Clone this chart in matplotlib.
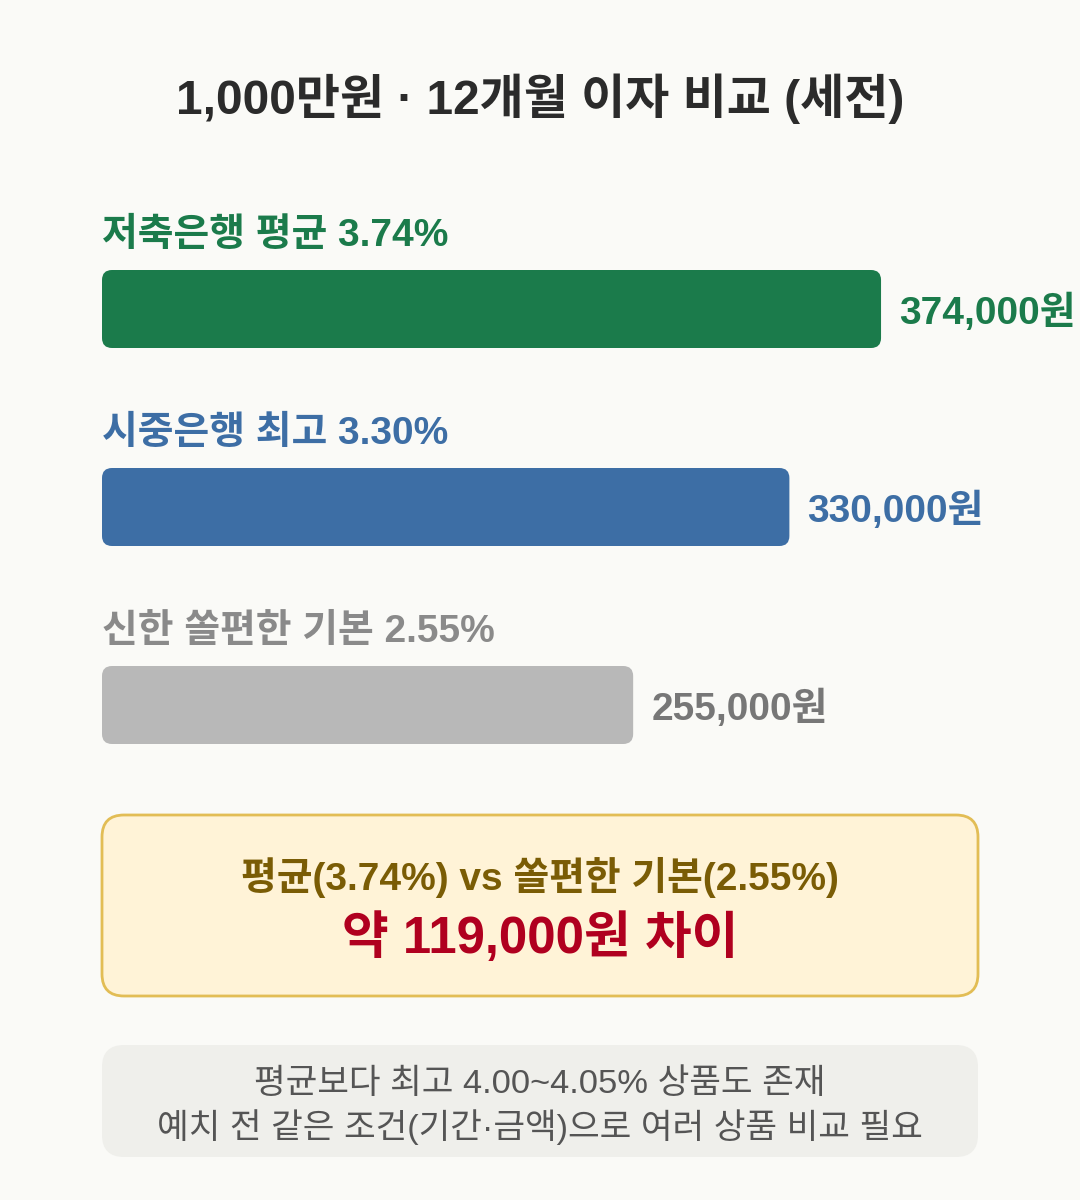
import matplotlib
matplotlib.use("Agg")
import matplotlib.pyplot as plt
from matplotlib.patches import FancyBboxPatch

plt.rcParams['font.family'] = ['Liberation Sans', 'Noto Sans CJK KR', 'DejaVu Sans']

# ---- data ----
title = "1,000만원 · 12개월 이자 비교 (세전)"
categories = ["저축은행 평균 3.74%", "시중은행 최고 3.30%", "신한 쏠편한 기본 2.55%"]
interest = [374000, 330000, 255000]
value_labels = ["374,000원", "330,000원", "255,000원"]
bar_colors = ["#1b7b4b", "#3d6ea5", "#b8b8b8"]
label_colors = ["#1b7b4b", "#3d6ea5", "#8a8a8a"]
value_colors = ["#1b7b4b", "#3d6ea5", "#777777"]
box_line1 = "평균(3.74%) vs 쏠편한 기본(2.55%)"
box_line2 = "약 119,000원 차이"
note_lines = ["평균보다 최고 4.00~4.05% 상품도 존재",
              "예치 전 같은 조건(기간·금액)으로 여러 상품 비교 필요"]

W, H = 1080, 1200
BG = "#fafaf7"
fig = plt.figure(figsize=(W / 100, H / 100), dpi=100, facecolor=BG)

# canvas axes in pixel coordinates for decoration
cv = fig.add_axes([0, 0, 1, 1], zorder=0)
cv.set_xlim(0, W)
cv.set_ylim(H, 0)
cv.axis("off")
cv.set_facecolor(BG)

cv.text(540, 99, title, ha="center", va="center", fontsize=34.5,
        fontweight="bold", color="#2b2b2b")

# bar axes: 0 won at x=102px, 2.083 px per 1000 won
left_px, right_px = 102, 1080
top_px, bot_px = 160, 760
px_per_won = 2.083 / 1000
xmax = (right_px - left_px) / px_per_won
step = 198
c0 = 309
ax = fig.add_axes([left_px / W, 1 - bot_px / H, (right_px - left_px) / W,
                   (bot_px - top_px) / H], zorder=1)
ax.set_xlim(0, xmax)
ax.set_ylim((bot_px - c0) / step, (top_px - c0) / step)
ax.axis("off")
ax.patch.set_alpha(0)

bar_h = 78 / step
r_px = 10
asp = px_per_won / step  # y data per x data for equal pixel radius
for i, (v, col) in enumerate(zip(interest, bar_colors)):
    p = FancyBboxPatch((0, i - bar_h / 2), v, bar_h,
                       boxstyle=f"round,pad=0,rounding_size={r_px / px_per_won}",
                       mutation_aspect=asp, facecolor=col, edgecolor="none")
    ax.add_patch(p)
    ax.text(0, i - 73 / step, categories[i], ha="left", va="center",
            fontsize=28, fontweight="bold", color=label_colors[i])
    ax.annotate(value_labels[i], (v, i), xytext=(13, -3), textcoords="offset points",
                ha="left", va="center", fontsize=28, fontweight="bold",
                color=value_colors[i])

# highlight box
b1 = FancyBboxPatch((102, 815), 876, 181, boxstyle="round,pad=0,rounding_size=22",
                    facecolor="#fff3d7", edgecolor="#e2bd55", linewidth=2)
cv.add_patch(b1)
cv.text(540, 877, box_line1, ha="center", va="center", fontsize=28,
        fontweight="bold", color="#7a5c05")
cv.text(540, 939, box_line2, ha="center", va="center", fontsize=36.6,
        fontweight="bold", color="#b0001f")

# note box
b2 = FancyBboxPatch((102, 1045), 876, 112, boxstyle="round,pad=0,rounding_size=22",
                    facecolor="#efefeb", edgecolor="none")
cv.add_patch(b2)
cv.text(540, 1084, note_lines[0], ha="center", va="center", fontsize=24.8, color="#555555")
cv.text(540, 1127, note_lines[1], ha="center", va="center", fontsize=24.8, color="#555555")

fig.savefig("out.png", dpi=100, facecolor=BG)
